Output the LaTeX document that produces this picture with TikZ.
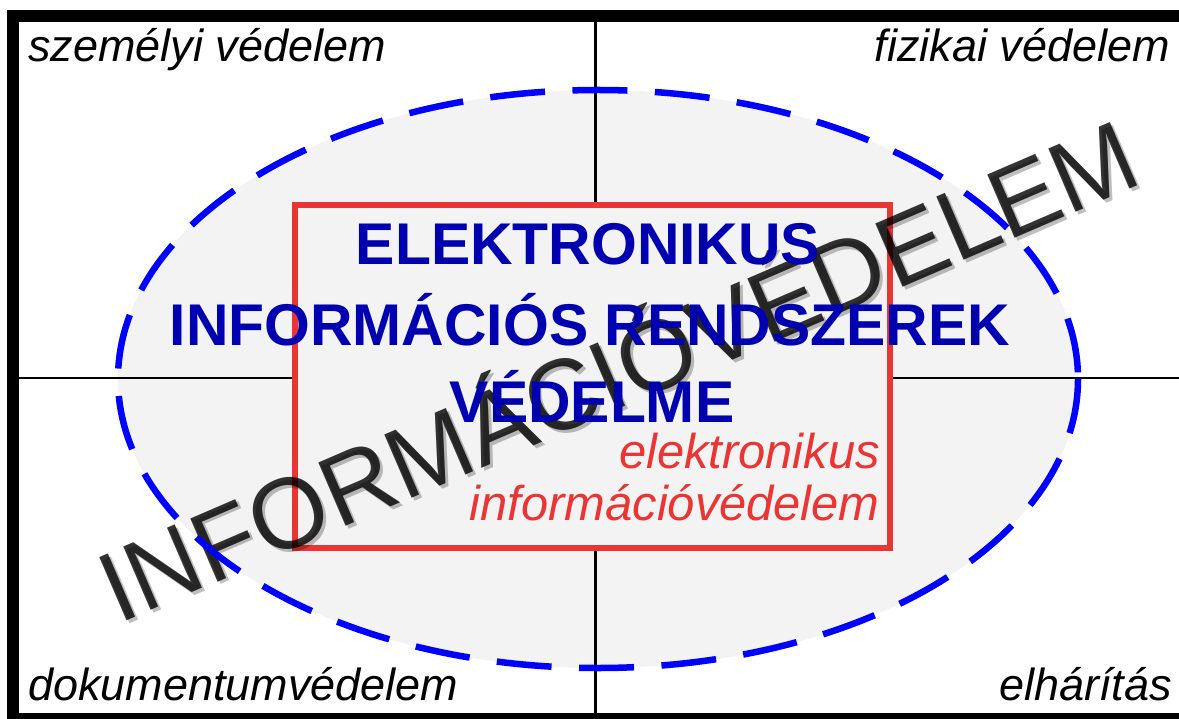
\documentclass[tikz,border=0pt]{standalone}
\usepackage{fontspec}
\setmainfont{Liberation Sans}
\usetikzlibrary{positioning}
\definecolor{titleblue}{RGB}{0,0,176}
\definecolor{ringblue}{RGB}{0,0,255}
\definecolor{boxred}{RGB}{235,52,52}
\definecolor{fillgray}{RGB}{243,243,243}

\begin{document}
\begin{tikzpicture}[x=0.02cm, y=-0.02cm,
    corner/.style={inner sep=0pt, font=\fontsize{25.6}{30}\selectfont\itshape},
    title/.style={inner sep=0pt, anchor=base, text=titleblue,
                  font=\fontsize{33.5}{44}\selectfont\bfseries},
    subtitle/.style={inner sep=0pt, anchor=base east, text=boxred,
                     font=\fontsize{27.8}{30}\selectfont\itshape}]
  \useasboundingbox (0,0) rectangle (1179,719);
  \clip (0,0) rectangle (1179,719);
  % Background ellipse
  \fill[fillgray] (598,379) ellipse [x radius=480, y radius=289];
  % Quadrant lines and outer frame
  \draw[line width=1.7pt] (595,16) -- (595,719);
  \draw[line width=1.7pt] (13,378) -- (1200,378);
  \draw[line width=6.5pt] (13,760) -- (13,16) -- (1200,16);
  \draw[line width=6.5pt] (13,719) -- (1200,719);
  % Inner box
  \node(box)[draw=boxred, fill=fillgray, line width=3.4pt, inner sep=0pt,
             minimum width=595*0.02cm, minimum height=343*0.02cm] at (592.5,376.5) {};
  % Big slanted word
  \node(shadow)[inner sep=0pt, rotate=23.3, text=black, opacity=0.25,
                font=\fontsize{57}{60}\selectfont] at (618,367) {INFORMÁCIÓVÉDELEM};
  \node(word)[inner sep=0pt, rotate=23.3, text=black, opacity=0.8,
              font=\fontsize{57}{60}\selectfont] at (615,364) {INFORMÁCIÓVÉDELEM};
  % Dashed ring
  \draw[ringblue, line width=3.7pt, dash pattern=on 1.1cm off 0.55cm]
    (598,379) ellipse [x radius=480, y radius=289];
  % Title lines
  \node(title1)[title] at (588,265) {ELEKTRONIKUS};
  \node(title2)[title] at (590,345) {INFORMÁCIÓS RENDSZEREK};
  \node(title3)[title] at (592,422) {VÉDELME};
  % Red label
  \node(sub1)[subtitle] at (880,468) {elektronikus};
  \node(sub2)[subtitle] at (880,520) {információvédelem};
  % Corner labels
  \node(personal)[corner, anchor=base west] at (28,62) {személyi védelem};
  \node(physical)[corner, anchor=base east] at (1170,62) {fizikai védelem};
  \node(documents)[corner, anchor=base west] at (28,700) {dokumentumvédelem};
  \node(counter)[corner, anchor=base east] at (1172,700) {elhárítás};
\end{tikzpicture}
\end{document}
